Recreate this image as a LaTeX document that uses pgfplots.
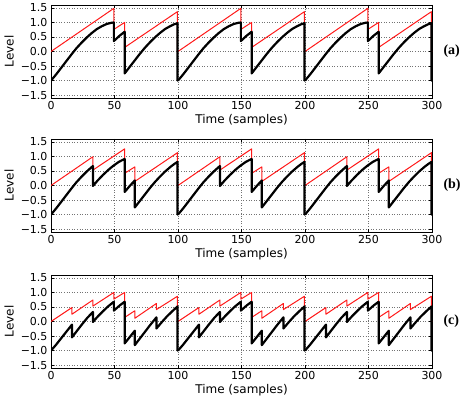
\documentclass[border=0pt]{standalone}
\usepackage{pgfplots}
\pgfplotsset{compat=1.18}
\usepackage{pgfplotstable}
\usepackage{fontspec}
\setmainfont{DejaVu Sans}
\newfontfamily\serifb{Liberation Serif}

\pgfplotstableread{
t r b
0 0 -1.00
4 0.12 -0.792
8 0.24 -0.564
12 0.36 -0.336
16 0.48 -0.108
20 0.60 0.110
24 0.72 0.300
28 0.84 0.476
32 0.96 0.632
36 1.08 0.768
40 1.20 0.870
44 1.32 0.949
48 1.44 0.991
49.5 1.485 0.998
49.5 0.76 0.360
54 0.887 0.542
58 1.00 0.680
58 0.14 -0.754
62 0.259 -0.528
66 0.377 -0.304
70 0.496 -0.078
74 0.614 0.132
78 0.733 0.320
82 0.851 0.491
86 0.970 0.644
90 1.089 0.778
94 1.207 0.875
97 1.296 0.937
99.6 1.37 0.972
99.6 0 -1.00
100 0 -1.00
}\tA

\pgfplotstableread{
t r b
0 0 -1.00
4 0.12 -0.792
8 0.24 -0.564
12 0.36 -0.336
16 0.48 -0.108
20 0.60 0.110
24 0.72 0.300
28 0.84 0.476
32 0.96 0.632
33 0.99 0.668
33 0.53 -0.016
37 0.647 0.185
41 0.764 0.366
45 0.88 0.532
49 0.997 0.676
53 1.114 0.801
55.5 1.187 0.860
58 1.26 0.912
58 0.42 -0.222
62 0.53 -0.016
66 0.64 0.174
66 0.14 -0.754
70 0.258 -0.530
74 0.376 -0.306
78 0.494 -0.081
82 0.611 0.128
86 0.729 0.314
90 0.847 0.486
94 0.965 0.638
97 1.053 0.738
99.6 1.13 0.814
99.6 0 -1.00
100 0 -1.00
}\tB

\pgfplotstableread{
t r b
0 0 -1.00
4 0.116 -0.800
8 0.233 -0.577
12 0.349 -0.357
16.5 0.48 -0.108
16.5 0.25 -0.545
20.5 0.369 -0.319
24.5 0.488 -0.093
28.5 0.607 0.121
33 0.74 0.330
33 0.53 -0.016
37 0.644 0.180
41 0.758 0.357
45 0.872 0.521
49.5 1.00 0.680
49.5 0.77 0.375
54 0.892 0.549
58 1.00 0.680
58 0.14 -0.754
62 0.255 -0.536
66 0.37 -0.317
66 0.11 -0.811
70 0.23 -0.583
74 0.35 -0.355
78 0.47 -0.127
83 0.62 0.142
83 0.41 -0.241
87 0.52 -0.034
91 0.631 0.160
95 0.742 0.333
99.6 0.87 0.518
99.6 0 -1.00
100 0 -1.00
}\tC

\pgfplotsset{
 panel/.style={
  width=381pt, height=93pt, scale only axis,
  xmin=0, xmax=300, ymin=-1.6, ymax=1.6,
  xtick={0,50,100,150,200,250,300},
  ytick={-1.5,-1,-0.5,0,0.5,1,1.5},
  yticklabels={−1.5,−1.0,−0.5,0.0,0.5,1.0,1.5},
  grid=major,
  major grid style={black!55, line width=0.5pt, dash pattern=on 0.8pt off 1.8pt},
  tick align=inside,
  major tick length=3pt,
  tick style={black, line width=0.5pt},
  axis line style={line width=0.7pt},
  ticklabel style={font=\fontsize{11}{13}\selectfont},
  label style={font=\fontsize{12}{14}\selectfont},
  xlabel={Time (samples)},
  ylabel={Level},
  xlabel style={yshift=2pt},
  /pgf/number format/assume math mode=true,
  anchor=south west,
 },
 rline/.style={red!90!white, line width=1pt, line join=round},
 bline/.style={black, line width=2.2pt, line join=round},
}

\begin{document}
\begin{tikzpicture}[x=1pt,y=1pt]
\useasboundingbox (0,0) rectangle (463,398);

\begin{axis}[panel, at={(51pt,300pt)}, name=A]
\addplot[rline] table[x expr=\thisrow{t}, y=r] {\tA};
\addplot[rline] table[x expr=\thisrow{t}+100, y=r] {\tA};
\addplot[rline] table[x expr=\thisrow{t}+200, y=r] {\tA};
\addplot[bline] table[x expr=\thisrow{t}, y=b] {\tA};
\addplot[bline] table[x expr=\thisrow{t}+100, y=b] {\tA};
\addplot[bline] table[x expr=\thisrow{t}+200, y=b] {\tA};
\end{axis}

\begin{axis}[panel, at={(51pt,166pt)}, name=B]
\addplot[rline] table[x expr=\thisrow{t}, y=r] {\tB};
\addplot[rline] table[x expr=\thisrow{t}+100, y=r] {\tB};
\addplot[rline] table[x expr=\thisrow{t}+200, y=r] {\tB};
\addplot[bline] table[x expr=\thisrow{t}, y=b] {\tB};
\addplot[bline] table[x expr=\thisrow{t}+100, y=b] {\tB};
\addplot[bline] table[x expr=\thisrow{t}+200, y=b] {\tB};
\end{axis}

\begin{axis}[panel, at={(51pt,30pt)}, name=C]
\addplot[rline] table[x expr=\thisrow{t}, y=r] {\tC};
\addplot[rline] table[x expr=\thisrow{t}+100, y=r] {\tC};
\addplot[rline] table[x expr=\thisrow{t}+200, y=r] {\tC};
\addplot[bline] table[x expr=\thisrow{t}, y=b] {\tC};
\addplot[bline] table[x expr=\thisrow{t}+100, y=b] {\tC};
\addplot[bline] table[x expr=\thisrow{t}+200, y=b] {\tC};
\end{axis}

\node[anchor=west, font=\serifb\bfseries\fontsize{14}{16}\selectfont, xshift=8pt] at (A.east) {(a)};
\node[anchor=west, font=\serifb\bfseries\fontsize{14}{16}\selectfont, xshift=8pt] at (B.east) {(b)};
\node[anchor=west, font=\serifb\bfseries\fontsize{14}{16}\selectfont, xshift=8pt] at (C.east) {(c)};
\end{tikzpicture}
\end{document}
